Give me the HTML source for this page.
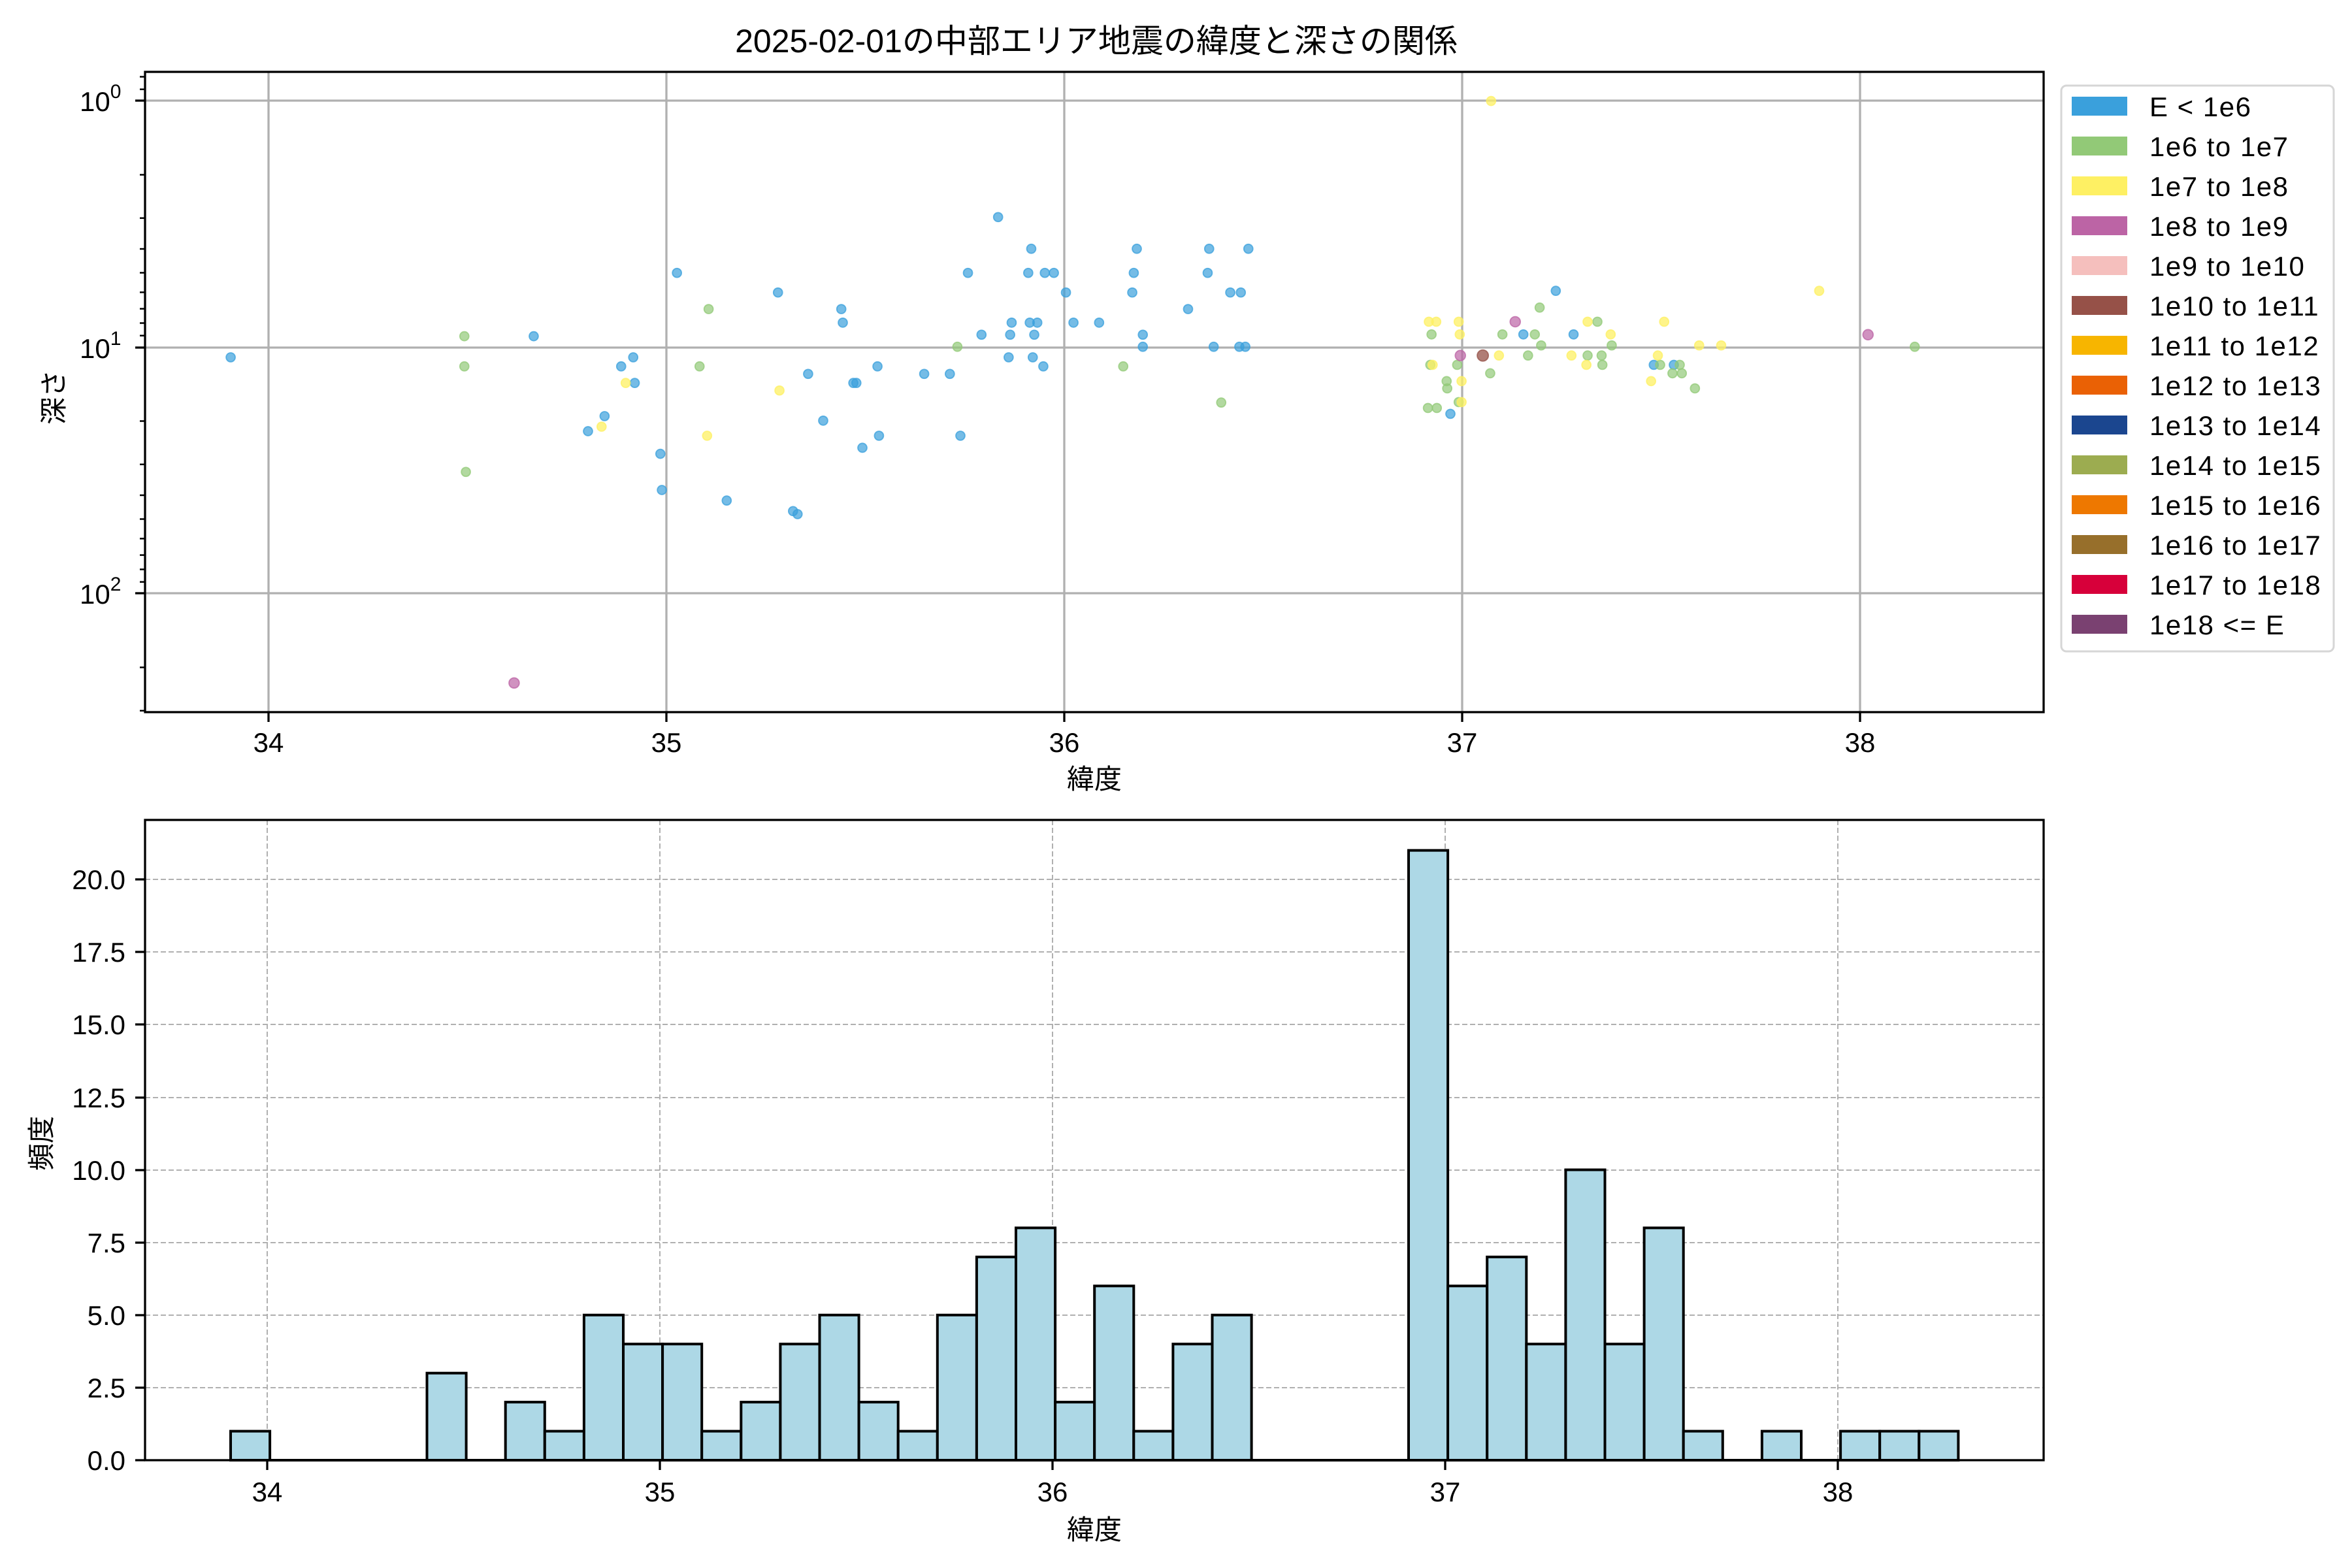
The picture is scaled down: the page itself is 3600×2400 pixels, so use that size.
<!DOCTYPE html>
<html><head><meta charset="utf-8"><style>
html,body{margin:0;padding:0;background:#fff}
svg{display:block}
text{font-family:"Liberation Sans","Noto Sans CJK JP",sans-serif;fill:#000}
circle{r:3px}
.b{fill:#3aa0dc;fill-opacity:.7;stroke:#3aa0dc;stroke-opacity:.75;stroke-width:.8}
.g{fill:#92c977;fill-opacity:.7;stroke:#92c977;stroke-opacity:.75;stroke-width:.8}
.y{fill:#fef063;fill-opacity:.75;stroke:#fef063;stroke-opacity:.75;stroke-width:.8}
.p{fill:#bc64a5;fill-opacity:.7;stroke:#bc64a5;stroke-opacity:.75;stroke-width:.8;r:3.4px}
.r{fill:#965148;fill-opacity:.75;stroke:#965148;stroke-opacity:.75;stroke-width:.8;r:3.7px}
.tk{font-size:42px}
</style></head><body>
<svg width="3600" height="2400" viewBox="0 0 3600 2400" xmlns="http://www.w3.org/2000/svg">
<rect width="3600" height="2400" fill="#fff"/>
<text x="1678" y="80" font-size="50" text-anchor="middle">2025-02-01の中部エリア地震の緯度と深さの関係</text>

<!-- TOP AXES -->
<g stroke="#b0b0b0" stroke-width="3.3">
<line x1="411" y1="110" x2="411" y2="1090"/><line x1="1020" y1="110" x2="1020" y2="1090"/><line x1="1629" y1="110" x2="1629" y2="1090"/><line x1="2238" y1="110" x2="2238" y2="1090"/><line x1="2847" y1="110" x2="2847" y2="1090"/>
<line x1="222" y1="154" x2="3128" y2="154"/><line x1="222" y1="532" x2="3128" y2="532"/><line x1="222" y1="908" x2="3128" y2="908"/>
</g>
<g transform="scale(2.30769)">
<circle class="b" cx="153" cy="237" r="3"/><circle class="b" cx="354" cy="223" r="3"/><circle class="b" cx="390" cy="286" r="3"/><circle class="b" cx="401" cy="276" r="3"/><circle class="b" cx="412" cy="243" r="3"/><circle class="b" cx="420" cy="237" r="3"/><circle class="b" cx="421" cy="254" r="3"/><circle class="b" cx="438" cy="301" r="3"/><circle class="b" cx="439" cy="325" r="3"/><circle class="b" cx="449" cy="181" r="3"/><circle class="b" cx="482" cy="332" r="3"/><circle class="b" cx="516" cy="194" r="3"/><circle class="b" cx="526" cy="339" r="3"/><circle class="b" cx="529" cy="341" r="3"/><circle class="b" cx="536" cy="248" r="3"/><circle class="b" cx="546" cy="279" r="3"/><circle class="b" cx="558" cy="205" r="3"/><circle class="b" cx="559" cy="214" r="3"/><circle class="b" cx="566" cy="254" r="3"/><circle class="b" cx="568" cy="254" r="3"/><circle class="b" cx="572" cy="297" r="3"/><circle class="b" cx="582" cy="243" r="3"/><circle class="b" cx="583" cy="289" r="3"/><circle class="b" cx="613" cy="248" r="3"/><circle class="b" cx="630" cy="248" r="3"/><circle class="b" cx="637" cy="289" r="3"/><circle class="b" cx="642" cy="181" r="3"/><circle class="b" cx="651" cy="222" r="3"/><circle class="b" cx="662" cy="144" r="3"/><circle class="b" cx="669" cy="237" r="3"/><circle class="b" cx="670" cy="222" r="3"/><circle class="b" cx="671" cy="214" r="3"/><circle class="b" cx="682" cy="181" r="3"/><circle class="b" cx="684" cy="165" r="3"/><circle class="b" cx="683" cy="214" r="3"/><circle class="b" cx="686" cy="222" r="3"/><circle class="b" cx="685" cy="237" r="3"/><circle class="b" cx="688" cy="214" r="3"/><circle class="b" cx="692" cy="243" r="3"/><circle class="b" cx="693" cy="181" r="3"/><circle class="b" cx="699" cy="181" r="3"/><circle class="b" cx="707" cy="194" r="3"/><circle class="b" cx="712" cy="214" r="3"/><circle class="b" cx="729" cy="214" r="3"/><circle class="b" cx="754" cy="165" r="3"/><circle class="b" cx="752" cy="181" r="3"/><circle class="b" cx="751" cy="194" r="3"/><circle class="b" cx="758" cy="222" r="3"/><circle class="b" cx="758" cy="230" r="3"/><circle class="b" cx="788" cy="205" r="3"/><circle class="b" cx="801" cy="181" r="3"/><circle class="b" cx="802" cy="165" r="3"/><circle class="b" cx="805" cy="230" r="3"/><circle class="b" cx="816" cy="194" r="3"/><circle class="b" cx="822" cy="230" r="3"/><circle class="b" cx="823" cy="194" r="3"/><circle class="b" cx="826" cy="230" r="3"/><circle class="b" cx="828" cy="165" r="3"/>
<circle class="b" cx="962" cy="274.5" r="3"/><circle class="b" cx="1010.4" cy="221.8" r="3"/><circle class="b" cx="1043.7" cy="221.8" r="3"/><circle class="b" cx="1031.9" cy="192.9" r="3"/><circle class="b" cx="1096.9" cy="242" r="3"/><circle class="b" cx="1110.2" cy="242" r="3"/>

<circle class="g" cx="308" cy="223" r="3"/><circle class="g" cx="308" cy="243" r="3"/><circle class="g" cx="309" cy="313" r="3"/><circle class="g" cx="470" cy="205" r="3"/><circle class="g" cx="464" cy="243" r="3"/><circle class="g" cx="635" cy="230" r="3"/><circle class="g" cx="745" cy="243" r="3"/><circle class="g" cx="810" cy="267" r="3"/><circle class="g" cx="1270" cy="230" r="3"/>
<circle class="g" cx="949.5" cy="221.8" r="3"/><circle class="g" cx="996.5" cy="221.8" r="3"/><circle class="g" cx="1018" cy="221.8" r="3"/><circle class="g" cx="1021.2" cy="204" r="3"/><circle class="g" cx="1059.5" cy="213.4" r="3"/><circle class="g" cx="1022.2" cy="229.1" r="3"/><circle class="g" cx="1069" cy="229.1" r="3"/><circle class="g" cx="1013.5" cy="235.8" r="3"/><circle class="g" cx="1053" cy="235.8" r="3"/><circle class="g" cx="1062.3" cy="235.8" r="3"/><circle class="g" cx="948.7" cy="242" r="3"/><circle class="g" cx="966.5" cy="242" r="3"/><circle class="g" cx="988.4" cy="247.6" r="3"/><circle class="g" cx="1062.8" cy="242" r="3"/><circle class="g" cx="1101.1" cy="242" r="3"/><circle class="g" cx="1114.1" cy="242" r="3"/><circle class="g" cx="1109.3" cy="247.6" r="3"/><circle class="g" cx="1115.5" cy="247.6" r="3"/><circle class="g" cx="1124.2" cy="257.6" r="3"/><circle class="g" cx="959.5" cy="252.8" r="3"/><circle class="g" cx="959.9" cy="257.6" r="3"/><circle class="g" cx="967.5" cy="266.7" r="3"/><circle class="g" cx="947.1" cy="270.6" r="3"/><circle class="g" cx="953" cy="270.6" r="3"/>

<circle class="y" cx="415" cy="254" r="3"/><circle class="y" cx="399" cy="283" r="3"/><circle class="y" cx="469" cy="289" r="3"/><circle class="y" cx="517" cy="259" r="3"/><circle class="y" cx="989" cy="67" r="3"/><circle class="y" cx="1206.6" cy="192.9" r="3"/>
<circle class="y" cx="947.7" cy="213.4" r="3"/><circle class="y" cx="952.6" cy="213.4" r="3"/><circle class="y" cx="967.5" cy="213.4" r="3"/><circle class="y" cx="968.2" cy="221.8" r="3"/><circle class="y" cx="1053" cy="213.4" r="3"/><circle class="y" cx="1068.3" cy="221.8" r="3"/><circle class="y" cx="1103.8" cy="213.4" r="3"/><circle class="y" cx="1127" cy="229.1" r="3"/><circle class="y" cx="1141.6" cy="229.1" r="3"/><circle class="y" cx="994.2" cy="235.8" r="3"/><circle class="y" cx="1042.3" cy="235.8" r="3"/><circle class="y" cx="1099.6" cy="235.8" r="3"/><circle class="y" cx="950.2" cy="242" r="3"/><circle class="y" cx="1052.2" cy="242" r="3"/><circle class="y" cx="1095.1" cy="252.8" r="3"/><circle class="y" cx="969.4" cy="252.8" r="3"/><circle class="y" cx="969.4" cy="266.7" r="3"/>

<circle class="p" cx="341" cy="453" r="3.4"/><circle class="p" cx="1005" cy="213.4" r="3.4"/><circle class="p" cx="968.6" cy="235.8" r="3.4"/><circle class="p" cx="1239" cy="222" r="3.4"/>
<circle class="r" cx="983.5" cy="235.8" r="3.7"/>
</g>

<!-- top axes frame and ticks -->
<rect x="222" y="110" width="2906" height="980" fill="none" stroke="#000" stroke-width="3.3"/>
<g stroke="#000" stroke-width="3.3">
<line x1="411" y1="1090" x2="411" y2="1105"/><line x1="1020" y1="1090" x2="1020" y2="1105"/><line x1="1629" y1="1090" x2="1629" y2="1105"/><line x1="2238" y1="1090" x2="2238" y2="1105"/><line x1="2847" y1="1090" x2="2847" y2="1105"/>
<line x1="207" y1="154" x2="222" y2="154"/><line x1="207" y1="532" x2="222" y2="532"/><line x1="207" y1="908" x2="222" y2="908"/>
</g>
<g stroke="#000" stroke-width="2.5">
<line x1="214" y1="117.5" x2="222" y2="117.5"/><line x1="214" y1="136.7" x2="222" y2="136.7"/>
<line x1="214" y1="267.5" x2="222" y2="267.5"/><line x1="214" y1="333.8" x2="222" y2="333.8"/><line x1="214" y1="381" x2="222" y2="381"/><line x1="214" y1="417.5" x2="222" y2="417.5"/><line x1="214" y1="447.4" x2="222" y2="447.4"/><line x1="214" y1="472.6" x2="222" y2="472.6"/><line x1="214" y1="494.5" x2="222" y2="494.5"/><line x1="214" y1="513.7" x2="222" y2="513.7"/>
<line x1="214" y1="644.5" x2="222" y2="644.5"/><line x1="214" y1="710.8" x2="222" y2="710.8"/><line x1="214" y1="758" x2="222" y2="758"/><line x1="214" y1="794.5" x2="222" y2="794.5"/><line x1="214" y1="824.4" x2="222" y2="824.4"/><line x1="214" y1="849.6" x2="222" y2="849.6"/><line x1="214" y1="871.5" x2="222" y2="871.5"/><line x1="214" y1="890.7" x2="222" y2="890.7"/>
<line x1="214" y1="1021.5" x2="222" y2="1021.5"/><line x1="214" y1="1087.8" x2="222" y2="1087.8"/>
</g>
<g class="tk" text-anchor="middle">
<text x="411" y="1151">34</text><text x="1020" y="1151">35</text><text x="1629" y="1151">36</text><text x="2238" y="1151">37</text><text x="2847" y="1151">38</text>
</g>
<g class="tk">
<text x="122" y="170">10<tspan font-size="30" dy="-20">0</tspan></text>
<text x="122" y="548">10<tspan font-size="30" dy="-20">1</tspan></text>
<text x="122" y="924">10<tspan font-size="30" dy="-20">2</tspan></text>
</g>
<text x="1675" y="1207" font-size="42" text-anchor="middle">緯度</text>
<text transform="translate(97,608) rotate(-90)" font-size="42" text-anchor="middle">深さ</text>

<!-- legend -->
<rect x="3155" y="131" width="417" height="866" rx="8" fill="#fff" stroke="#d6d6d6" stroke-width="3"/>
<g>
<rect x="3171" y="148" width="85" height="29" fill="#3aa0dc"/>
<rect x="3171" y="209" width="85" height="29" fill="#92c977"/>
<rect x="3171" y="270" width="85" height="29" fill="#fef063"/>
<rect x="3171" y="331" width="85" height="29" fill="#bc64a5"/>
<rect x="3171" y="392" width="85" height="29" fill="#f5bfbd"/>
<rect x="3171" y="453" width="85" height="29" fill="#965148"/>
<rect x="3171" y="514" width="85" height="29" fill="#f7b500"/>
<rect x="3171" y="575" width="85" height="29" fill="#ea6105"/>
<rect x="3171" y="636" width="85" height="29" fill="#1b468f"/>
<rect x="3171" y="697" width="85" height="29" fill="#9cac50"/>
<rect x="3171" y="758" width="85" height="29" fill="#ee7800"/>
<rect x="3171" y="819" width="85" height="29" fill="#976f2b"/>
<rect x="3171" y="880" width="85" height="29" fill="#d7003a"/>
<rect x="3171" y="941" width="85" height="29" fill="#7a4171"/>
</g>
<g font-size="42" letter-spacing="1.5">
<text x="3290" y="178">E &lt; 1e6</text>
<text x="3290" y="239">1e6 to 1e7</text>
<text x="3290" y="300">1e7 to 1e8</text>
<text x="3290" y="361">1e8 to 1e9</text>
<text x="3290" y="422">1e9 to 1e10</text>
<text x="3290" y="483">1e10 to 1e11</text>
<text x="3290" y="544">1e11 to 1e12</text>
<text x="3290" y="605">1e12 to 1e13</text>
<text x="3290" y="666">1e13 to 1e14</text>
<text x="3290" y="727">1e14 to 1e15</text>
<text x="3290" y="788">1e15 to 1e16</text>
<text x="3290" y="849">1e16 to 1e17</text>
<text x="3290" y="910">1e17 to 1e18</text>
<text x="3290" y="971">1e18 &lt;= E</text>
</g>

<!-- BOTTOM AXES -->
<g stroke="#b0b0b0" stroke-width="2" stroke-dasharray="8,4">
<line x1="409" y1="1255" x2="409" y2="2235"/><line x1="1010" y1="1255" x2="1010" y2="2235"/><line x1="1611" y1="1255" x2="1611" y2="2235"/><line x1="2212" y1="1255" x2="2212" y2="2235"/><line x1="2813" y1="1255" x2="2813" y2="2235"/>
<line x1="222" y1="2124" x2="3128" y2="2124"/><line x1="222" y1="2013" x2="3128" y2="2013"/><line x1="222" y1="1902" x2="3128" y2="1902"/><line x1="222" y1="1791" x2="3128" y2="1791"/><line x1="222" y1="1680" x2="3128" y2="1680"/><line x1="222" y1="1568" x2="3128" y2="1568"/><line x1="222" y1="1457" x2="3128" y2="1457"/><line x1="222" y1="1346" x2="3128" y2="1346"/>
</g>
<g fill="#add8e6" stroke="#000" stroke-width="4">
<line x1="353" y1="2235" x2="2997" y2="2235"/>
<rect x="353" y="2190.6" width="60.1" height="44.4"/>
<rect x="653.5" y="2101.7" width="60.1" height="133.3"/>
<rect x="773.7" y="2146.1" width="60.1" height="88.9"/>
<rect x="833.8" y="2190.6" width="60.1" height="44.4"/>
<rect x="893.9" y="2012.8" width="60.1" height="222.2"/>
<rect x="954" y="2057.2" width="60.1" height="177.8"/>
<rect x="1014.1" y="2057.2" width="60.1" height="177.8"/>
<rect x="1074.2" y="2190.6" width="60.1" height="44.4"/>
<rect x="1134.3" y="2146.1" width="60.1" height="88.9"/>
<rect x="1194.4" y="2057.2" width="60.1" height="177.8"/>
<rect x="1254.5" y="2012.8" width="60.1" height="222.2"/>
<rect x="1314.6" y="2146.1" width="60.1" height="88.9"/>
<rect x="1374.7" y="2190.6" width="60.1" height="44.4"/>
<rect x="1434.8" y="2012.8" width="60.1" height="222.2"/>
<rect x="1494.9" y="1923.9" width="60.1" height="311.1"/>
<rect x="1555" y="1879.4" width="60.1" height="355.6"/>
<rect x="1615.1" y="2146.1" width="60.1" height="88.9"/>
<rect x="1675.2" y="1968.3" width="60.1" height="266.7"/>
<rect x="1735.3" y="2190.6" width="60.1" height="44.4"/>
<rect x="1795.4" y="2057.2" width="60.1" height="177.8"/>
<rect x="1855.5" y="2012.8" width="60.1" height="222.2"/>
<rect x="2156" y="1301.6" width="60.1" height="933.4"/>
<rect x="2216.1" y="1968.3" width="60.1" height="266.7"/>
<rect x="2276.2" y="1923.9" width="60.1" height="311.1"/>
<rect x="2336.3" y="2057.2" width="60.1" height="177.8"/>
<rect x="2396.4" y="1790.5" width="60.1" height="444.5"/>
<rect x="2456.5" y="2057.2" width="60.1" height="177.8"/>
<rect x="2516.6" y="1879.4" width="60.1" height="355.6"/>
<rect x="2576.7" y="2190.6" width="60.1" height="44.4"/>
<rect x="2696.9" y="2190.6" width="60.1" height="44.4"/>
<rect x="2817.1" y="2190.6" width="60.1" height="44.4"/>
<rect x="2877.2" y="2190.6" width="60.1" height="44.4"/>
<rect x="2937.3" y="2190.6" width="60.1" height="44.4"/>
</g>
<rect x="222" y="1255" width="2906" height="980" fill="none" stroke="#000" stroke-width="3.3"/>
<g stroke="#000" stroke-width="3.3">
<line x1="409" y1="2235" x2="409" y2="2250"/><line x1="1010" y1="2235" x2="1010" y2="2250"/><line x1="1611" y1="2235" x2="1611" y2="2250"/><line x1="2212" y1="2235" x2="2212" y2="2250"/><line x1="2813" y1="2235" x2="2813" y2="2250"/>
<line x1="207" y1="2235" x2="222" y2="2235"/><line x1="207" y1="2124" x2="222" y2="2124"/><line x1="207" y1="2013" x2="222" y2="2013"/><line x1="207" y1="1902" x2="222" y2="1902"/><line x1="207" y1="1791" x2="222" y2="1791"/><line x1="207" y1="1680" x2="222" y2="1680"/><line x1="207" y1="1568" x2="222" y2="1568"/><line x1="207" y1="1457" x2="222" y2="1457"/><line x1="207" y1="1346" x2="222" y2="1346"/>
</g>
<g class="tk" text-anchor="middle">
<text x="409" y="2298">34</text><text x="1010" y="2298">35</text><text x="1611" y="2298">36</text><text x="2212" y="2298">37</text><text x="2813" y="2298">38</text>
</g>
<g class="tk" text-anchor="end">
<text x="192" y="2250">0.0</text><text x="192" y="2139">2.5</text><text x="192" y="2028">5.0</text><text x="192" y="1917">7.5</text><text x="192" y="1806">10.0</text><text x="192" y="1695">12.5</text><text x="192" y="1583">15.0</text><text x="192" y="1472">17.5</text><text x="192" y="1361">20.0</text>
</g>
<text x="1675" y="2356" font-size="42" text-anchor="middle">緯度</text>
<text transform="translate(78,1750) rotate(-90)" font-size="42" text-anchor="middle">頻度</text>
</svg>
</body></html>
